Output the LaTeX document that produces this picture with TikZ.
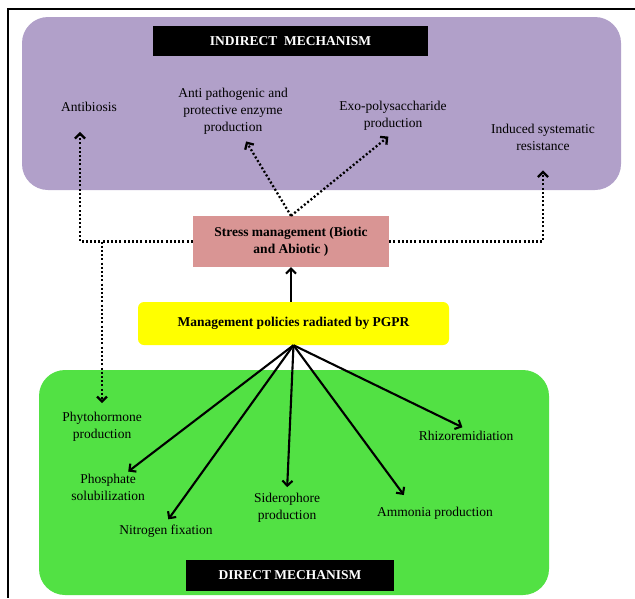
\documentclass[tikz,border=0pt]{standalone}
\usepackage{fontspec}
\setmainfont{Liberation Serif}
\usepackage{tikz}
\usetikzlibrary{arrows.meta,calc,positioning}
\definecolor{indirectpurple}{HTML}{B1A0C9}
\definecolor{directgreen}{HTML}{52E144}
\definecolor{stresspink}{HTML}{D99594}
\definecolor{policyyellow}{HTML}{FFFF00}
\tikzset{
  panel/.style={rounded corners=26pt, inner sep=0pt},
  titlebox/.style={fill=black, text=white, inner sep=0pt, font=\fontsize{13.5}{16}\selectfont\bfseries},
  label/.style={align=center, inner sep=2pt, font=\fontsize{13.5}{17}\selectfont},
  hubbox/.style={align=center, inner sep=0pt, font=\fontsize{13.5}{17}\selectfont\bfseries},
  solidarrow/.style={black, line width=2.1pt, -{Straight Barb[length=5pt,width=10pt]}},
  dotarrow/.style={black, line width=2.3pt, dash pattern=on 2pt off 2.2pt, -{Straight Barb[length=5pt,width=10pt]}}
}
\begin{document}
\begin{tikzpicture}[x=1pt, y=-1pt]
  \useasboundingbox (0,0) rectangle (635,598);
  % frame
  \draw[line width=1.8pt] (635,9) -- (8,9) -- (8,598);
  % panels
  \node[panel, fill=indirectpurple, minimum width=599pt, minimum height=173pt] (indirect) at (321.5,103.5) {};
  \node[panel, fill=directgreen, minimum width=510pt, minimum height=225pt] (direct) at (294,482.5) {};
  \node[titlebox, minimum width=275pt, minimum height=30pt] (indirecttitle) at (290.5,41) {INDIRECT\ \ MECHANISM};
  \node[titlebox, minimum width=208pt, minimum height=31pt] (directtitle) at (290,575.5) {DIRECT MECHANISM};
  % hub boxes
  \node[hubbox, fill=stresspink, minimum width=196pt, minimum height=51pt] (stress) at (291,241.5) {Stress management (Biotic\\and Abiotic )};
  \node[hubbox, fill=policyyellow, rounded corners=6pt, minimum width=311pt, minimum height=43pt] (policy) at (293.5,323.5) {Management policies radiated by PGPR};
  % indirect effects
  \node[label] (antibiosis) at (89,107) {Antibiosis};
  \node[label] (antipath) at (233,111) {Anti pathogenic and\\protective enzyme\\production};
  \node[label] (exo) at (393,116) {Exo-polysaccharide\\production};
  \node[label] (induced) at (543,137) {Induced systematic\\resistance};
  % direct effects
  \node[label] (phyto) at (102,427) {Phytohormone\\production};
  \node[label] (phosphate) at (108,487) {Phosphate\\solubilization};
  \node[label] (nitrogen) at (166,531) {Nitrogen fixation};
  \node[label] (sidero) at (287,508) {Siderophore\\production};
  \node[label] (ammonia) at (435,513) {Ammonia production};
  \node[label] (rhizo) at (466,436) {Rhizoremidiation};
  % connectors
  \draw[solidarrow] (policy.north -| stress.south) -- (stress.south);
  \draw[dotarrow, shorten >=6pt] (stress.north) -- ([xshift=10pt]antipath.south);
  \draw[dotarrow, shorten >=6pt] (stress.north) -- (exo.south);
  \draw[dotarrow] (stress.west) -| ([xshift=-9pt,yshift=-18pt]antibiosis.south);
  \draw[dotarrow] (stress.east) -| ([yshift=-18pt]induced.south);
  \coordinate (branch) at (phyto.north |- stress.west);
  \draw[dotarrow, shorten >=7pt] (branch) -- (phyto.north);
  \draw[solidarrow] (policy.south) -- (phosphate);
  \foreach \target in {nitrogen, sidero, rhizo}{
    \draw[solidarrow, shorten >=4pt] (policy.south) -- (\target.north);
  }
  \draw[solidarrow, shorten >=12pt] (policy.south) -- ($(ammonia.north)+(-24pt,0)$);
\end{tikzpicture}
\end{document}
